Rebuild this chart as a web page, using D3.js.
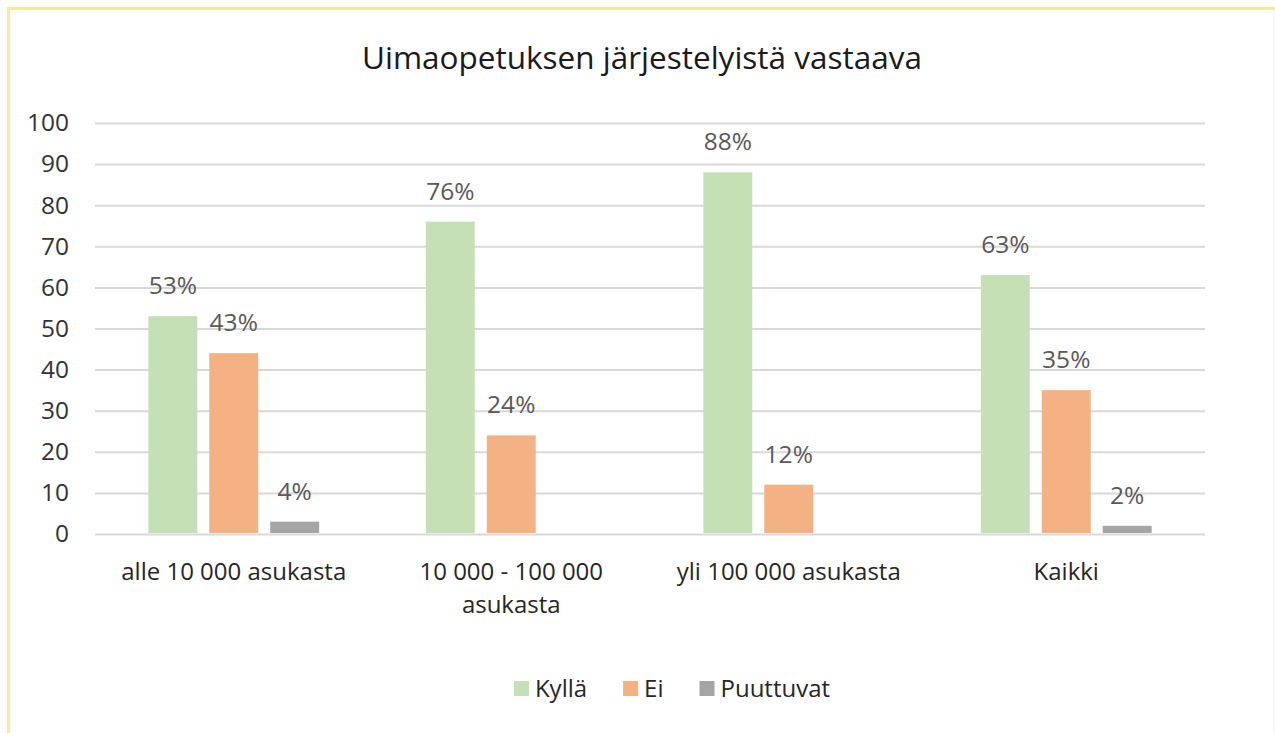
<!DOCTYPE html>
<html>
<head>
<meta charset="utf-8">
<script src="https://cdn.jsdelivr.net/npm/d3@7"></script>
<style>
  html, body { margin: 0; padding: 0; background: #fff; }
  svg text { font-family: "Open Sans", "Noto Sans", sans-serif; }
</style>
</head>
<body>
<div id="root"></div>
<script>
const WIDTH = 1275;
const HEIGHT = 733;
const MARGIN = {top: 123, right: 70, bottom: 201, left: 95};

const title = "Uimaopetuksen järjestelyistä vastaava";
const categories = ["alle 10 000 asukasta", "10 000 - 100 000 asukasta", "yli 100 000 asukasta", "Kaikki"];
const seriesNames = ["Kyllä", "Ei", "Puuttuvat"];
const seriesColors = ["#C5E0B4", "#F4B183", "#A5A5A5"];

// bar heights, labels as printed
const kyllaValues = [53, 76, 88, 63];
const eiValues = [44, 24, 12, 35];
const puuttuvatValues = [3, 0, 0, 2];
const kyllaLabels = ["53%", "76%", "88%", "63%"];
const eiLabels = ["43%", "24%", "12%", "35%"];
const puuttuvatLabels = ["4%", "", "", "2%"];
const yTicks = [0, 10, 20, 30, 40, 50, 60, 70, 80, 90, 100];

const seriesValues = [kyllaValues, eiValues, puuttuvatValues];
const seriesLabels = [kyllaLabels, eiLabels, puuttuvatLabels];

const rows = [];
categories.forEach((c, i) => {
    seriesNames.forEach((s, j) => {
        rows.push({category: c, series: s, value: seriesValues[j][i], label: seriesLabels[j][i], color: seriesColors[j]});
    });
});

const svg = d3.select("#root")
    .append("svg")
    .attr("width", WIDTH)
    .attr("height", HEIGHT);

// yellow frame
svg.append("line").attr("x1", 7).attr("x2", WIDTH).attr("y1", 8.5).attr("y2", 8.5)
    .attr("stroke", "#FFE699").attr("stroke-width", 3);
svg.append("line").attr("x1", 8.5).attr("x2", 8.5).attr("y1", 7).attr("y2", HEIGHT)
    .attr("stroke", "#FFE699").attr("stroke-width", 3);
svg.append("line").attr("x1", 1273.5).attr("x2", 1273.5).attr("y1", 10).attr("y2", HEIGHT)
    .attr("stroke", "#FFF6E0").attr("stroke-width", 1);

const x0 = d3.scaleBand()
    .domain(categories)
    .range([MARGIN.left, WIDTH - MARGIN.right])
    .padding(0);

const x1 = d3.scaleBand()
    .domain(seriesNames)
    .range([0, x0.bandwidth()])
    .paddingInner(0.197)
    .paddingOuter(0.875);

const y = d3.scaleLinear()
    .domain([0, 100])
    .range([HEIGHT - MARGIN.bottom + 2, MARGIN.top]);

// gridlines + y tick labels
const yAxis = d3.axisLeft(y)
    .tickValues(yTicks)
    .tickSize(-(WIDTH - MARGIN.left - MARGIN.right))
    .tickPadding(26);

svg.append("g")
    .attr("transform", `translate(${MARGIN.left}, 0)`)
    .call(yAxis)
    .call(g => g.select(".domain").remove())
    .call(g => g.selectAll(".tick line").attr("stroke", "#D9D9D9").attr("stroke-width", 2))
    .call(g => g.selectAll(".tick text")
        .attr("fill", "#333333")
        .style("font-size", "24.5px"));

// bars
svg.append("g")
    .selectAll("rect")
    .data(rows.filter(d => d.value > 0))
    .join("rect")
    .attr("x", d => x0(d.category) + x1(d.series))
    .attr("y", d => y(d.value))
    .attr("width", x1.bandwidth())
    .attr("height", d => y(0) - y(d.value) - 1)
    .attr("fill", d => d.color);

// data labels
svg.append("g")
    .selectAll("text")
    .data(rows.filter(d => d.label !== ""))
    .join("text")
    .attr("x", d => x0(d.category) + x1(d.series) + x1.bandwidth() / 2)
    .attr("y", d => y(d.value) - 22)
    .attr("text-anchor", "middle")
    .attr("fill", "#595959")
    .style("font-size", "24.5px")
    .text(d => d.label);

// category labels
const xAxis = d3.axisBottom(x0).tickSize(0).tickPadding(0);
const xg = svg.append("g")
    .attr("transform", `translate(0, ${y(0)})`)
    .call(xAxis)
    .call(g => g.select(".domain").remove());

xg.selectAll(".tick text")
    .attr("fill", "#262626")
    .style("font-size", "24px")
    .attr("dy", null)
    .attr("y", 0)
    .each(function() { wrap(d3.select(this), 255); });

function wrap(text, width) {
    const words = text.text().split(/\s+/);
    text.text(null);
    let line = [];
    let lineNo = 0;
    let tspan = text.append("tspan").attr("x", 0).attr("y", 46);
    words.forEach(w => {
        line.push(w);
        tspan.text(line.join(" "));
        if (tspan.node().getComputedTextLength() > width && line.length > 1) {
            line.pop();
            tspan.text(line.join(" "));
            line = [w];
            lineNo++;
            tspan = text.append("tspan").attr("x", 0).attr("y", 46 + lineNo * 33).text(w);
        }
    });
}

// title
svg.append("text")
    .attr("x", 642)
    .attr("y", 69)
    .attr("text-anchor", "middle")
    .attr("fill", "#1a1a1a")
    .style("font-size", "31.5px")
    .text(title);

// legend
const legend = svg.append("g");
let lx = 0;
seriesNames.forEach((s, i) => {
    const item = legend.append("g").attr("transform", `translate(${lx}, 0)`);
    item.append("rect")
        .attr("x", 0).attr("y", 681)
        .attr("width", 15).attr("height", 15)
        .attr("fill", seriesColors[i]);
    const t = item.append("text")
        .attr("x", 21).attr("y", 697)
        .attr("fill", "#262626")
        .style("font-size", "24px")
        .text(s);
    lx += 21 + t.node().getComputedTextLength() + 36;
});
const legendWidth = lx - 36;
legend.attr("transform", `translate(${672 - legendWidth / 2}, 0)`);
</script>
</body>
</html>
